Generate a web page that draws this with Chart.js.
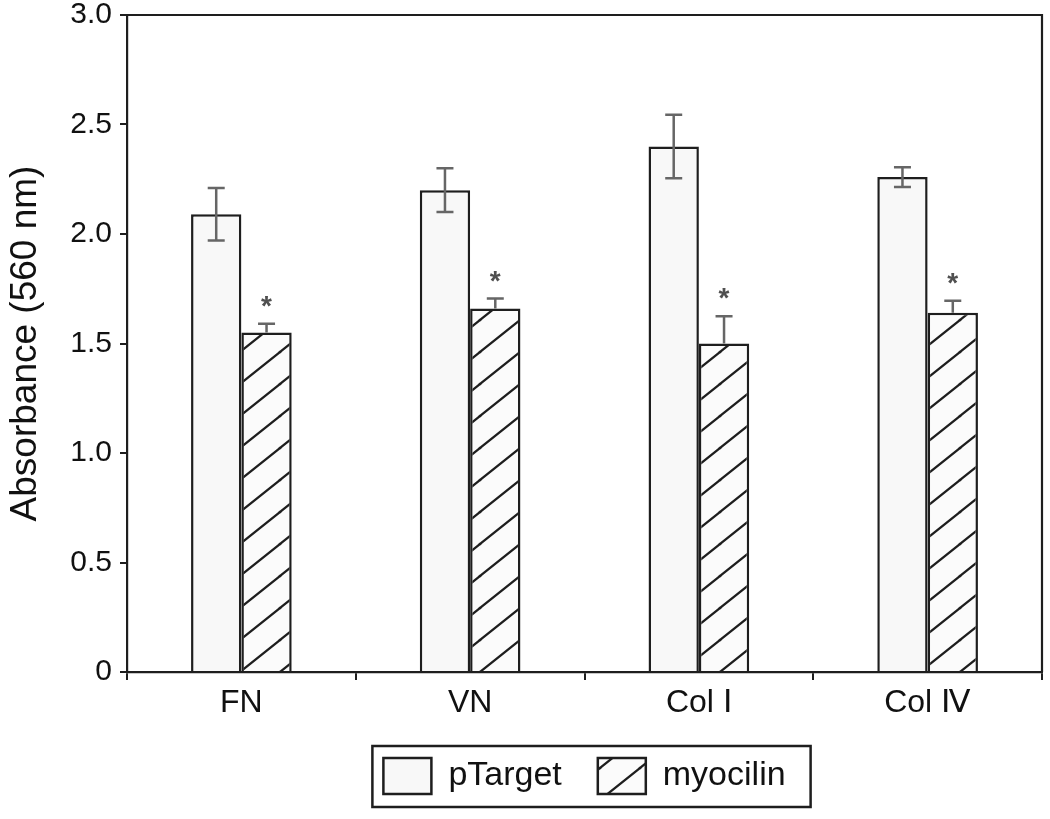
<!DOCTYPE html>
<html>
<head>
<meta charset="utf-8">
<script src="https://cdn.jsdelivr.net/npm/chart.js@4"></script>
<style>
  html, body { margin: 0; padding: 0; background: #ffffff; }
  #wrap { width: 1050px; height: 819px; }
</style>
</head>
<body>
<div id="wrap"><canvas id="c"></canvas></div>
<script>
const categories = ['FN', 'VN', 'Col \u2160', 'Col \u2163'];
const seriesNames = ['pTarget', 'myocilin'];
const pTargetValues = [2.09, 2.20, 2.40, 2.26];
const pTargetErrors = [0.12, 0.10, 0.145, 0.045];
const myocilinValues = [1.55, 1.66, 1.50, 1.64];
const myocilinErrors = [0.04, 0.045, 0.125, 0.055];
const significant = [true, true, true, true];
const yTickValues = [0, 0.5, 1.0, 1.5, 2.0, 2.5, 3.0];
const yTitle = 'Absorbance (560 nm)';

const FONT = "'Liberation Sans', Arial, Helvetica, sans-serif";
const INK = '#1e1e1e';

function makeHatch() {
  const w = 40, h = 32;
  const c = document.createElement('canvas');
  c.width = w; c.height = h;
  const g = c.getContext('2d');
  g.fillStyle = '#fbfbfb';
  g.fillRect(0, 0, w, h);
  g.strokeStyle = '#1e1e1e';
  g.lineWidth = 2.2;
  g.lineCap = 'square';
  [[0, 0], [-w, 0], [w, 0], [0, -h], [0, h]].forEach(([dx, dy]) => {
    g.beginPath();
    g.moveTo(dx, h + dy);
    g.lineTo(w + dx, dy);
    g.stroke();
  });
  return g.createPattern(c, 'repeat');
}
const hatch = makeHatch();

const extrasPlugin = {
  id: 'extras',
  afterDatasetsDraw(chart) {
    const ctx = chart.ctx;
    const y = chart.scales.y;
    const area = chart.chartArea;
    const errs = [pTargetErrors, myocilinErrors];
    const vals = [pTargetValues, myocilinValues];
    ctx.save();
    for (let d = 0; d < 2; d++) {
      const meta = chart.getDatasetMeta(d);
      meta.data.forEach((bar, i) => {
        const x = bar.x;
        const top = y.getPixelForValue(vals[d][i] + errs[d][i]);
        const bot = d === 0 ? y.getPixelForValue(vals[d][i] - errs[d][i]) : y.getPixelForValue(vals[d][i]);
        ctx.strokeStyle = '#666666';
        ctx.lineWidth = 2.5;
        ctx.beginPath();
        ctx.moveTo(x, top); ctx.lineTo(x, bot);
        ctx.moveTo(x - 8.5, top); ctx.lineTo(x + 8.5, top);
        if (d === 0) { ctx.moveTo(x - 8.5, bot); ctx.lineTo(x + 8.5, bot); }
        ctx.stroke();
        if (d === 1 && significant[i]) {
          ctx.fillStyle = '#505050';
          ctx.font = 'bold 28px ' + FONT;
          ctx.textAlign = 'center';
          ctx.textBaseline = 'alphabetic';
          ctx.fillText('*', x, top - 9);
        }
      });
    }
    ctx.strokeStyle = INK;
    ctx.lineWidth = 2.2;
    ctx.beginPath();
    ctx.moveTo(area.left, area.top);
    ctx.lineTo(area.right, area.top);
    ctx.lineTo(area.right, area.bottom);
    ctx.stroke();
    ctx.restore();
  },
  afterDraw(chart) {
    const lg = chart.legend;
    if (!lg || !lg.legendHitBoxes || !lg.legendHitBoxes.length) return;
    const hb = lg.legendHitBoxes;
    let l = Infinity, r = -Infinity, t = Infinity, b = -Infinity;
    hb.forEach(h => {
      l = Math.min(l, h.left); r = Math.max(r, h.left + h.width);
      t = Math.min(t, h.top); b = Math.max(b, h.top + h.height);
    });
    const ctx = chart.ctx;
    ctx.save();
    ctx.strokeStyle = INK;
    ctx.lineWidth = 2.5;
    ctx.strokeRect(l - 11, t - 12, (r + 25) - (l - 11), (b + 13) - (t - 12));
    ctx.restore();
  }
};

new Chart(document.getElementById('c'), {
  type: 'bar',
  data: {
    labels: categories,
    datasets: [
      {
        label: seriesNames[0],
        data: pTargetValues,
        backgroundColor: '#f8f8f8',
        borderColor: INK,
        borderWidth: 2.5,
        categoryPercentage: 0.44,
        barPercentage: 1.0
      },
      {
        label: seriesNames[1],
        data: myocilinValues,
        backgroundColor: hatch,
        borderColor: INK,
        borderWidth: 2.5,
        categoryPercentage: 0.44,
        barPercentage: 1.0
      }
    ]
  },
  options: {
    responsive: true,
    maintainAspectRatio: false,
    animation: false,
    devicePixelRatio: 1,
    layout: { padding: { top: 15, right: 8, bottom: 15, left: 0 } },
    plugins: {
      legend: {
        display: true,
        position: 'bottom',
        fullSize: false,
        labels: {
          boxWidth: 48,
          boxHeight: 36,
          padding: 36,
          color: '#111',
          font: { family: FONT, size: 34 }
        }
      },
      tooltip: { enabled: false }
    },
    scales: {
      x: {
        offset: true,
        grid: {
          display: true,
          drawOnChartArea: false,
          offset: true,
          tickLength: 8,
          color: INK,
          lineWidth: 2
        },
        border: { display: true, color: INK, width: 2.2 },
        ticks: {
          color: '#111',
          padding: 4,
          maxRotation: 0,
          font: { family: FONT, size: 32 }
        },
        afterFit(scale) {
          scale.height = 50;
          scale.paddingLeft = 0; scale.paddingRight = 0;
        }
      },
      y: {
        min: 0,
        max: 3,
        afterBuildTicks(scale) { scale.ticks = yTickValues.map(v => ({ value: v })); },
        grid: {
          display: true,
          drawOnChartArea: false,
          tickLength: 7,
          color: INK,
          lineWidth: 2
        },
        border: { display: true, color: INK, width: 2.2 },
        ticks: {
          color: '#111',
          padding: 8,
          font: { family: FONT, size: 30 },
          callback(v) { return v === 0 ? '0' : Number(v).toFixed(1); }
        },
        title: {
          display: true,
          text: yTitle,
          color: '#111',
          padding: { top: 4, bottom: 0 },
          font: { family: FONT, size: 37 }
        },
        afterFit(scale) {
          scale.width = 127;
          scale.paddingTop = 0; scale.paddingBottom = 0;
        }
      }
    }
  },
  plugins: [extrasPlugin]
});
</script>
</body>
</html>
